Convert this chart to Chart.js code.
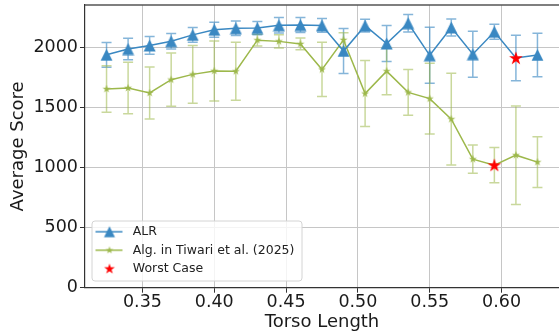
<!DOCTYPE html>
<html><head><meta charset="utf-8">
<script src="https://cdn.jsdelivr.net/npm/chart.js@4.4.0/dist/chart.umd.min.js"></script>
<style>html,body{margin:0;padding:0;background:#fff;}#wrap{width:559px;height:335px;}</style>
</head><body><div id="wrap"><canvas id="c" width="559" height="335"></canvas></div>
<script>
// ---- data ----
const torsoLength = [0.325, 0.34, 0.355, 0.37, 0.385, 0.40, 0.415, 0.43, 0.445, 0.46, 0.475, 0.49, 0.505, 0.52, 0.535, 0.55, 0.565, 0.58, 0.595, 0.61, 0.625];
const alrMean = [1940, 1988, 2018, 2053, 2106, 2149, 2161, 2163, 2186, 2188, 2185, 1972, 2183, 2034, 2203, 1936, 2168, 1945, 2132, 1913, 1939];
const alrErr  = [103, 90, 74, 64, 61, 62, 61, 55, 65, 62, 57, 187, 53, 150, 72, 233, 71, 192, 62, 190, 181];
const tiwMean = [1655, 1664, 1622, 1733, 1777, 1806, 1803, 2062, 2052, 2031, 1818, 2064, 1617, 1804, 1627, 1575, 1404, 1071, 1021, 1104, 1046];
const tiwErr  = [194, 214, 217, 222, 240, 250, 242, 49, 55, 49, 226, 60, 275, 196, 190, 294, 382, 118, 146, 410, 212];
const worstX = [0.61, 0.595];
const worstY = [1913, 1021];
const alrWorstIndex = 19;
const tiwWorstIndex = 18;
const xTicks = [0.35, 0.40, 0.45, 0.50, 0.55, 0.60];
const yTicks = [0, 500, 1000, 1500, 2000];
const seriesLabels = ['ALR', 'Alg. in Tiwari et al. (2025)', 'Worst Case'];
const xTitle = 'Torso Length';
const yTitle = 'Average Score';

// ---- styles ----
const BLUE = '#3a88c2';
const BLUE_ERR = 'rgba(58,136,194,0.62)';
const GREEN = '#9db84b';
const GREEN_ERR = 'rgba(157,184,75,0.55)';
const RED = '#ff0000';
const FONT = '"DejaVu Sans", "Liberation Sans", sans-serif';

function makeCanvas(w, h, draw) {
  const c = document.createElement('canvas');
  c.width = w; c.height = h;
  draw(c.getContext('2d'));
  return c;
}
function starPath(ctx, cx, cy, R) {
  const r = R * 0.381966;
  ctx.beginPath();
  for (let i = 0; i < 10; i++) {
    const a = -Math.PI / 2 + i * Math.PI / 5;
    const rad = i % 2 === 0 ? R : r;
    ctx.lineTo(cx + rad * Math.cos(a), cy + rad * Math.sin(a));
  }
  ctx.closePath();
}
function triPath(ctx, cx, cy, s) {
  ctx.beginPath();
  ctx.moveTo(cx, cy - s);
  ctx.lineTo(cx - s, cy + s);
  ctx.lineTo(cx + s, cy + s);
  ctx.closePath();
}
const triImg = makeCanvas(13, 13, ctx => { ctx.fillStyle = BLUE; triPath(ctx, 6.5, 6.5, 6); ctx.fill(); });
const gStarImg = makeCanvas(10, 10, ctx => { ctx.fillStyle = GREEN; starPath(ctx, 5, 5, 4.2); ctx.fill(); });
const rStarImg = makeCanvas(16, 16, ctx => { ctx.fillStyle = RED; starPath(ctx, 8, 8.4, 7.2); ctx.fill(); });

const legALR = makeCanvas(32, 14, ctx => {
  ctx.strokeStyle = BLUE; ctx.lineWidth = 1.5;
  ctx.beginPath(); ctx.moveTo(2, 7); ctx.lineTo(29, 7); ctx.stroke();
  ctx.fillStyle = BLUE; triPath(ctx, 16, 7, 5.5); ctx.fill();
});
const legTiw = makeCanvas(32, 14, ctx => {
  ctx.strokeStyle = GREEN; ctx.lineWidth = 1.5;
  ctx.beginPath(); ctx.moveTo(2, 7); ctx.lineTo(29, 7); ctx.stroke();
  ctx.fillStyle = GREEN; starPath(ctx, 16, 7, 4); ctx.fill();
});
const legWorst = makeCanvas(32, 14, ctx => {
  ctx.fillStyle = RED; starPath(ctx, 16, 7.3, 5.6); ctx.fill();
});

// ---- plugins ----
const errorBars = {
  id: 'errorBars',
  beforeDatasetsDraw(chart) {
    const ctx = chart.ctx, xs = chart.scales.x, ys = chart.scales.y;
    const series = [[alrMean, alrErr, BLUE_ERR], [tiwMean, tiwErr, GREEN_ERR]];
    ctx.save();
    ctx.lineWidth = 1.5;
    for (const [m, e, col] of series) {
      ctx.strokeStyle = col;
      for (let i = 0; i < torsoLength.length; i++) {
        const x = xs.getPixelForValue(torsoLength[i]);
        const y1 = ys.getPixelForValue(m[i] + e[i]);
        const y2 = ys.getPixelForValue(m[i] - e[i]);
        ctx.beginPath();
        ctx.moveTo(x, y1); ctx.lineTo(x, y2);
        ctx.moveTo(x - 5, y1); ctx.lineTo(x + 5, y1);
        ctx.moveTo(x - 5, y2); ctx.lineTo(x + 5, y2);
        ctx.stroke();
      }
    }
    ctx.restore();
  }
};

const frame = {
  id: 'frame',
  afterDatasetsDraw(chart) {
    const ctx = chart.ctx, ca = chart.chartArea;
    ctx.save();
    ctx.strokeStyle = '#555';
    ctx.lineWidth = 1.3;
    ctx.beginPath();
    ctx.moveTo(ca.left, ca.top); ctx.lineTo(ca.right + 2, ca.top);
    ctx.stroke();
    ctx.restore();
  }
};

const legendPlace = {
  id: 'legendPlace',
  afterInit(chart) {
    const L = chart.legend;
    const orig = L.draw;
    L.draw = function () {
      const ca = chart.chartArea;
      this.left = ca.left + 1.5;
      this.right = ca.right;
      this.top = ca.top;
      this.bottom = Math.round(ca.bottom - 6.7);
      const ctx = chart.ctx;
      const fx = ca.left + 7, fy = this.bottom - 60, fw = 210, fh = 60, r = 3;
      ctx.save();
      ctx.beginPath();
      ctx.moveTo(fx + r, fy);
      ctx.arcTo(fx + fw, fy, fx + fw, fy + fh, r);
      ctx.arcTo(fx + fw, fy + fh, fx, fy + fh, r);
      ctx.arcTo(fx, fy + fh, fx, fy, r);
      ctx.arcTo(fx, fy, fx + fw, fy, r);
      ctx.closePath();
      ctx.fillStyle = 'rgba(255,255,255,0.8)';
      ctx.fill();
      ctx.strokeStyle = '#d4d4d4';
      ctx.lineWidth = 1;
      ctx.stroke();
      ctx.restore();
      orig.call(this);
    };
  }
};

// ---- chart ----
const alrData = torsoLength.map((x, i) => ({ x, y: alrMean[i] }));
const tiwData = torsoLength.map((x, i) => ({ x, y: tiwMean[i] }));
const worstData = worstX.map((x, i) => ({ x, y: worstY[i] }));

new Chart(document.getElementById('c'), {
  type: 'line',
  data: {
    datasets: [
      {
        label: seriesLabels[0], data: alrData, order: 1,
        borderColor: BLUE, borderWidth: 1.5, tension: 0, fill: false,
        pointStyle: triImg, pointRadius: c => c.dataIndex === alrWorstIndex ? 0 : 6
      },
      {
        label: seriesLabels[1], data: tiwData, order: 2,
        borderColor: GREEN, borderWidth: 1.5, tension: 0, fill: false,
        pointStyle: gStarImg, pointRadius: c => c.dataIndex === tiwWorstIndex ? 0 : 4
      },
      {
        label: seriesLabels[2], data: worstData, order: 0, showLine: false,
        pointStyle: rStarImg, pointRadius: 7
      }
    ]
  },
  options: {
    responsive: false,
    animation: false,
    devicePixelRatio: 1,
    layout: { autoPadding: false, padding: { left: 0, top: 5, right: 0, bottom: 0 } },
    plugins: {
      tooltip: { enabled: false },
      legend: {
        position: 'chartArea',
        align: 'end',
        onClick: null,
        labels: {
          usePointStyle: true,
          pointStyleWidth: 34,
          padding: 6,
          color: '#222',
          font: { family: FONT, size: 12.5 },
          generateLabels: () => [
            { text: seriesLabels[0], pointStyle: legALR, fillStyle: BLUE, strokeStyle: BLUE, lineWidth: 0, hidden: false, datasetIndex: 0, fontColor: '#222' },
            { text: seriesLabels[1], pointStyle: legTiw, fillStyle: GREEN, strokeStyle: GREEN, lineWidth: 0, hidden: false, datasetIndex: 1, fontColor: '#222' },
            { text: seriesLabels[2], pointStyle: legWorst, fillStyle: RED, strokeStyle: RED, lineWidth: 0, hidden: false, datasetIndex: 2, fontColor: '#222' }
          ]
        }
      }
    },
    scales: {
      x: {
        type: 'linear', min: 0.31, max: 0.64,
        afterBuildTicks: s => { s.ticks = xTicks.map(v => ({ value: v })); },
        afterFit: s => { s.height = 47.3; s.paddingLeft = 0; s.paddingRight = 0; s.paddingTop = 0; s.paddingBottom = 0; },
        grid: { color: '#c6c6c6', lineWidth: 1, drawTicks: true, tickLength: 5, tickColor: '#333', tickWidth: 1 },
        border: { display: true, color: '#333', width: 1.2 },
        ticks: { color: '#1a1a1a', font: { family: FONT, size: 17.5, lineHeight: 1.0 }, padding: 1, maxRotation: 0,
                 callback: v => Number(v).toFixed(2) },
        title: { display: true, text: xTitle, color: '#1a1a1a', font: { family: FONT, size: 18 }, padding: { top: 0, bottom: 2 } }
      },
      y: {
        type: 'linear', min: 0, max: 2355,
        afterBuildTicks: s => { s.ticks = yTicks.map(v => ({ value: v })); },
        afterFit: s => { s.width = 85; s.paddingLeft = 0; s.paddingRight = 0; s.paddingTop = 0; s.paddingBottom = 0; },
        grid: { color: '#c6c6c6', lineWidth: 1, drawTicks: true, tickLength: 5, tickColor: '#333', tickWidth: 1 },
        border: { display: true, color: '#333', width: 1.2 },
        ticks: { color: '#1a1a1a', font: { family: FONT, size: 17.5 }, padding: 2, callback: v => String(v) },
        title: { display: true, text: yTitle, color: '#1a1a1a', font: { family: FONT, size: 18 }, padding: { top: 8, bottom: 0 } }
      }
    }
  },
  plugins: [errorBars, frame, legendPlace]
});
</script>
</body></html>
